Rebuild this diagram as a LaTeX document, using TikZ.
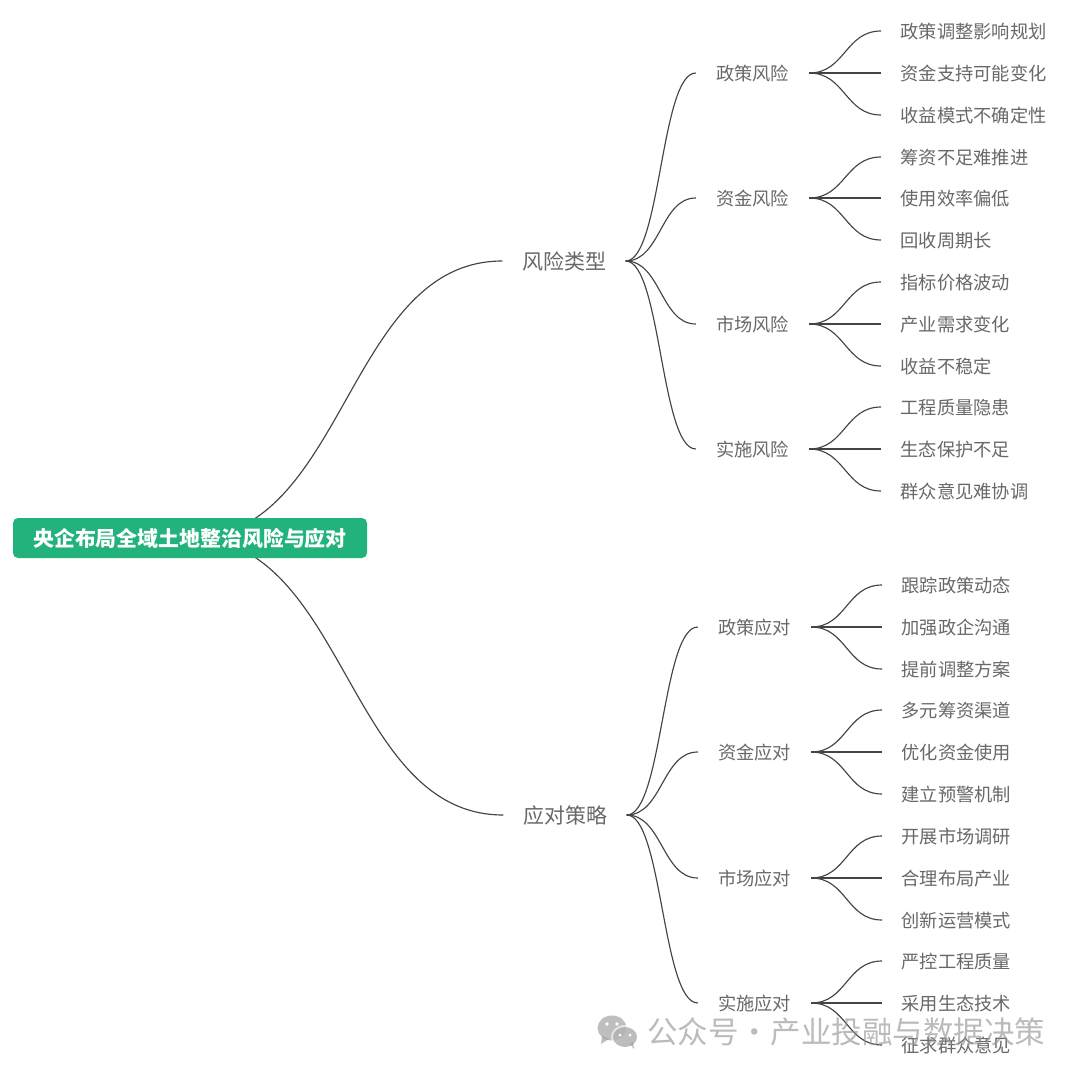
\documentclass[tikz,border=0pt]{standalone}
\usepackage{fontspec}
\setmainfont{Noto Sans CJK SC}
\usepackage{tikz}
\usetikzlibrary{calc}
\pgfdeclarelayer{background}
\pgfsetlayers{background,main}
\definecolor{rootgreen}{RGB}{33,179,123}
\definecolor{maptext}{RGB}{104,104,104}
\definecolor{mapline}{RGB}{68,68,68}
\definecolor{markgray}{RGB}{150,150,150}
\tikzset{
  rootbox/.style={rectangle,rounded corners=5pt,fill=rootgreen,text=white,font=\fontsize{20.9}{21}\selectfont\bfseries,minimum width=354pt,minimum height=40pt,inner sep=0pt,text height=18pt,text depth=2pt},
  topic/.style={text=maptext,font=\fontsize{21}{21}\selectfont,inner xsep=19.5pt,inner ysep=0pt,text height=18pt,text depth=2pt},
  branch/.style={text=maptext,font=\fontsize{18.25}{18.25}\selectfont,inner xsep=20pt,inner ysep=0pt,text height=17pt,text depth=2pt},
  leaf/.style={anchor=west,text=maptext,font=\fontsize{18.25}{18.25}\selectfont,inner xsep=19.5pt,inner ysep=0pt,text height=17pt,text depth=2pt},
  maplink/.style={draw=mapline,line width=1.15pt},
}
\newcommand{\maplink}[2]{
  \coordinate (m) at ($(#1)!0.5!(#2)$);
  \draw [maplink] (#1) .. controls (m |- #1) and (m |- #2) .. (#2);
}
\begin{document}
\begin{tikzpicture}[x=1pt,y=-1pt]
        \useasboundingbox (0,0) rectangle (1080,1076);
        \node (root) at (190,538) [rootbox] {央企布局全域土地整治风险与应对};
        % risks
        \node (r) at (564,261) [topic] {风险类型};
        \node (r1) at (752.5,73) [branch] {政策风险};
        \node (r2) at (752.5,198) [branch] {资金风险};
        \node (r3) at (752.5,324) [branch] {市场风险};
        \node (r4) at (752.5,449) [branch] {实施风险};
        \node (r11) at (881,31) [leaf] {政策调整影响规划};
        \node (r12) at (881,73) [leaf] {资金支持可能变化};
        \node (r13) at (881,115) [leaf] {收益模式不确定性};
        \node (r21) at (881,157) [leaf] {筹资不足难推进};
        \node (r22) at (881,198) [leaf] {使用效率偏低};
        \node (r23) at (881,240) [leaf] {回收周期长};
        \node (r31) at (881,282) [leaf] {指标价格波动};
        \node (r32) at (881,324) [leaf] {产业需求变化};
        \node (r33) at (881,366) [leaf] {收益不稳定};
        \node (r41) at (881,407) [leaf] {工程质量隐患};
        \node (r42) at (881,449) [leaf] {生态保护不足};
        \node (r43) at (881,491) [leaf] {群众意见难协调};
        % responses
        \node (s) at (565,815) [topic] {应对策略};
        \node (s1) at (754.5,627) [branch] {政策应对};
        \node (s2) at (754.5,752) [branch] {资金应对};
        \node (s3) at (754.5,878) [branch] {市场应对};
        \node (s4) at (754.5,1003) [branch] {实施应对};
        \node (s11) at (882,585) [leaf] {跟踪政策动态};
        \node (s12) at (882,627) [leaf] {加强政企沟通};
        \node (s13) at (882,669) [leaf] {提前调整方案};
        \node (s21) at (882,710) [leaf] {多元筹资渠道};
        \node (s22) at (882,752) [leaf] {优化资金使用};
        \node (s23) at (882,794) [leaf] {建立预警机制};
        \node (s31) at (882,836) [leaf] {开展市场调研};
        \node (s32) at (882,878) [leaf] {合理布局产业};
        \node (s33) at (882,920) [leaf] {创新运营模式};
        \node (s41) at (882,961) [leaf] {严控工程质量};
        \node (s42) at (882,1003) [leaf] {采用生态技术};
        \node (s43) at (882,1045) [leaf] {征求群众意见};
        \begin{pgfonlayer}{background}
          \maplink{root.center}{r.west}
          \maplink{root.center}{s.west}
        \end{pgfonlayer}
        \foreach \t in {r,s} {
          \foreach \b in {1,2,3,4} {
            \maplink{\t.east}{\t\b.west}
            \foreach \l in {1,2,3} {
              \maplink{\t\b.east}{\t\b\l.west}
            }
          }
        }
        % watermark
        \begin{scope}[opacity=0.62]
          \fill [markgray] (612,1028) ellipse (14.5pt and 12.5pt);
          \fill [markgray] (602,1036) -- (601,1044) -- (609,1039) -- cycle;
          \fill [white] (625,1037) ellipse (14pt and 12pt);
          \fill [markgray] (625,1037) ellipse (12pt and 10pt);
          \fill [markgray] (630,1044) -- (634,1049) -- (633,1042) -- cycle;
        \end{scope}
        \fill [white] (607,1024) circle (1.8pt) (617,1024) circle (1.8pt) (620,1035) circle (1.5pt) (630,1035) circle (1.5pt);
        \node (mark) at (647,1032) [anchor=west,inner sep=0pt,opacity=0.65,text=markgray,font=\fontsize{30.5}{30.5}\selectfont] {公众号\makebox[32pt]{·}产业投融与数据决策};
\end{tikzpicture}
\end{document}
